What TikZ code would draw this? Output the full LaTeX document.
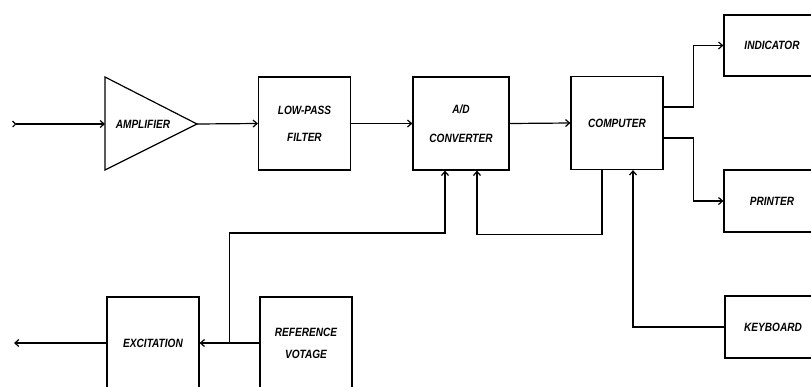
\documentclass[tikz,border=0pt]{standalone}
\usepackage{fontspec}
\setmainfont{Liberation Sans}[FakeStretch=0.84]
\usetikzlibrary{arrows.meta,calc}
\begin{document}
\begin{tikzpicture}[x=1pt,y=-1pt,
  line width=1.2pt,
  >={Straight Barb[length=4pt,width=7pt]},
  font=\fontsize{12}{13}\selectfont\bfseries\itshape,
  blk/.style={draw, inner sep=0pt, align=center},
  sq/.style={blk, minimum width=92pt, minimum height=93pt},
  wide/.style={blk, minimum width=96pt, minimum height=62pt}]
\useasboundingbox (0,0) rectangle (811,386);
\clip (0,0) rectangle (811,386);
% amplifier
\draw (105,77) -- (197,124) -- (105,170) -- cycle;
\node (amp) at (143,124) {AMPLIFIER};
\coordinate (ampin) at (105,124);
\coordinate (ampout) at (197,124);
\coordinate (in) at (12,124);
% blocks
\node[sq] (lpf) at (304.5,123.5) {LOW-PASS\\[14pt]FILTER};
\node[sq, minimum width=96pt] (ad) at (461,123.5) {A/D\\[16pt]CONVERTER};
\node[sq] (comp) at (617,123) {COMPUTER};
\node[wide, minimum height=61pt] (ind) at (772,45.5) {INDICATOR};
\node[wide] (prt) at (772,201) {PRINTER};
\node[wide] (kbd) at (773,327) {KEYBOARD};
\node[sq, minimum height=92pt] (exc) at (153,343) {EXCITATION};
\node[sq, minimum height=92pt] (ref) at (306,343) {REFERENCE\\[9pt]VOTAGE};
\coordinate (out) at (14,343);
\coordinate (j) at ($(exc.east)!0.5!(ref.west)$);
% connectors
\draw[{Straight Barb[reversed,length=3pt,width=6pt]}->] (in) -- (ampin);
\draw[->] (ampout) -- (lpf.west);
\draw[->] (lpf.east) -- (ad.west);
\draw[->] (ad.east) -- (comp.west);
\draw[->] ([yshift=16pt]comp.east) -- ++(30,0) |- (ind.west);
\draw[->] ([yshift=-15pt]comp.east) -- ++(30,0) |- (prt.west);
\draw[->] ([xshift=-15pt]comp.south) -- ++(0,64) -| ([xshift=16pt]ad.south);
\draw[->] (kbd.west) -| ([xshift=16pt]comp.south);
\draw[->] (ref.west) -- (exc.east);
\draw[->] (j) -- ++(0,-110) -| ([xshift=-16pt]ad.south);
\draw[->] (exc.west) -- (out);
\end{tikzpicture}
\end{document}
